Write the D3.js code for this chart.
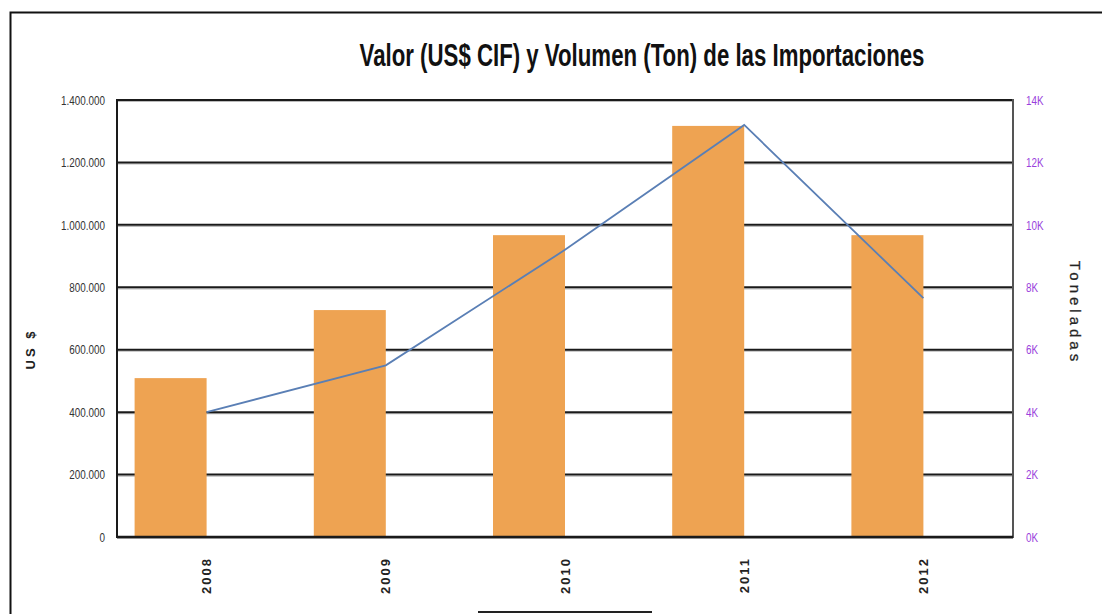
<!DOCTYPE html>
<html><head><meta charset="utf-8">
<script src="https://cdn.jsdelivr.net/npm/d3@7/dist/d3.min.js"></script>
<style>
html,body{margin:0;padding:0;background:#fff;}
svg{display:block;}
</style></head>
<body>
<script>
const years = ["2008", "2009", "2010", "2011", "2012"];
const valorUSD = [509000, 727000, 967000, 1317000, 967000];
const volumenTon = [4000, 5500, 9200, 13200, 7650];
const leftTicks = [0, 200000, 400000, 600000, 800000, 1000000, 1200000, 1400000];
const rightTicks = [0, 2000, 4000, 6000, 8000, 10000, 12000, 14000];
const title = "Valor (US$ CIF) y Volumen (Ton) de las Importaciones";
const leftTitle = "US $";
const rightTitle = "Toneladas";

const W = 1102, H = 614;
const m = {left: 117, right: 1013, top: 100, bottom: 537};
const svg = d3.select("body").append("svg").attr("width", W).attr("height", H);

// outer frame
svg.append("path").attr("d", `M10.5,${H} L10.5,12.5 L${W},12.5`).attr("fill", "none")
  .attr("stroke", "#111").attr("stroke-width", 2);
// partial legend box at bottom
svg.append("line").attr("x1", 478).attr("x2", 652).attr("y1", 612).attr("y2", 612)
  .attr("stroke", "#222").attr("stroke-width", 2);

const x = d3.scaleBand().domain(years).range([m.left, m.right]).padding(0);
const yL = d3.scaleLinear().domain([0, 1400000]).range([m.bottom, m.top]);
const yR = d3.scaleLinear().domain([0, 14000]).range([m.bottom, m.top]);

const loc = d3.formatLocale({decimal: ",", thousands: ".", grouping: [3], currency: ["$", ""]});
const fmtL = loc.format(",");
const fmtR = d => (d / 1000) + "K";

// gridlines
const grid = svg.append("g");
grid.selectAll("line.sh").data(leftTicks).join("line")
  .attr("x1", m.left).attr("x2", m.right)
  .attr("y1", d => yL(d) + 1.5).attr("y2", d => yL(d) + 1.5)
  .attr("stroke", "#bbb").attr("stroke-width", 1.2);
grid.selectAll("line.g").data(leftTicks).join("line")
  .attr("x1", m.left).attr("x2", m.right)
  .attr("y1", d => yL(d)).attr("y2", d => yL(d))
  .attr("stroke", "#1a1a1a").attr("stroke-width", 2);

// bars
const bw = 72;
svg.append("g").selectAll("rect").data(years).join("rect")
  .attr("x", d => x(d) + x.bandwidth() / 2 - bw)
  .attr("width", bw)
  .attr("y", (d, i) => yL(valorUSD[i]))
  .attr("height", (d, i) => yL(0) - yL(valorUSD[i]))
  .attr("fill", "#eea352");

// axes lines
svg.append("line").attr("x1", m.left).attr("x2", m.left).attr("y1", m.top - 1).attr("y2", m.bottom + 1)
  .attr("stroke", "#1a1a1a").attr("stroke-width", 2);
svg.append("line").attr("x1", m.right).attr("x2", m.right).attr("y1", m.top - 1).attr("y2", m.bottom + 1)
  .attr("stroke", "#555").attr("stroke-width", 2);
svg.append("line").attr("x1", m.left).attr("x2", m.right).attr("y1", m.bottom).attr("y2", m.bottom)
  .attr("stroke", "#1a1a1a").attr("stroke-width", 2.5);

// line series
const line = d3.line().x((d, i) => x(years[i]) + x.bandwidth() / 2).y(d => yR(d));
svg.append("path").datum(volumenTon).attr("d", line)
  .attr("fill", "none").attr("stroke", "#5a7fb5").attr("stroke-width", 1.8);

const font = "'Liberation Sans', Arial, sans-serif";

// left axis labels (condensed)
const axL = svg.append("g").attr("transform", `translate(${m.left},0)`)
  .call(d3.axisLeft(yL).tickValues(leftTicks).tickFormat(fmtL).tickSize(0));
axL.select(".domain").remove();
axL.selectAll(".tick text").attr("x", 0).attr("font-family", font).attr("font-size", 13).attr("fill", "#333")
  .attr("transform", "translate(-12,0) scale(0.76,1)");

// right axis labels
const axR = svg.append("g").attr("transform", `translate(${m.right},0)`)
  .call(d3.axisRight(yR).tickValues(rightTicks).tickFormat(fmtR).tickSize(0));
axR.select(".domain").remove();
axR.selectAll(".tick text").attr("x", 0).attr("font-family", font).attr("font-size", 13).attr("fill", "#9a3fdc")
  .attr("transform", "translate(13,0) scale(0.76,1)");

// x axis labels
const axB = svg.append("g").attr("transform", `translate(0,${m.bottom})`)
  .call(d3.axisBottom(x).tickSize(0));
axB.select(".domain").remove();
axB.selectAll("text")
  .attr("font-family", font).attr("font-size", 13).attr("font-weight", "bold").attr("fill", "#222")
  .attr("letter-spacing", 2)
  .attr("text-anchor", "end")
  .attr("transform", "translate(0,20) rotate(-90)")
  .attr("x", 0).attr("y", 0).attr("dy", "0.35em");

// title, condensed by measured scale
const t = svg.append("text").attr("text-anchor", "middle")
  .attr("font-family", font).attr("font-weight", "bold").attr("font-size", 31)
  .attr("fill", "#111").text(title);
const tw = t.node().getComputedTextLength();
t.attr("transform", `translate(642,66) scale(${565 / tw},1)`);

// axis titles
svg.append("text").attr("transform", "translate(30,349) rotate(-90)")
  .attr("text-anchor", "middle").attr("font-family", font)
  .attr("font-weight", "bold").attr("font-size", 13).attr("letter-spacing", 3)
  .attr("dy", "0.35em").attr("fill", "#222").text(leftTitle);
svg.append("text").attr("transform", "translate(1075,313) rotate(90)")
  .attr("text-anchor", "middle").attr("font-family", font)
  .attr("font-size", 15).attr("letter-spacing", 4).attr("stroke", "#333").attr("stroke-width", 0.3)
  .attr("dy", "0.35em").attr("fill", "#222").text(rightTitle);
</script>
</body></html>
